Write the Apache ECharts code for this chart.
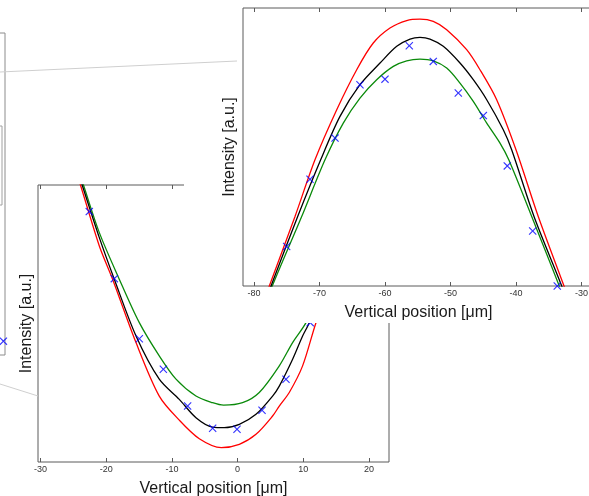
<!DOCTYPE html>
<html><head><meta charset="utf-8">
<script src="https://cdn.jsdelivr.net/npm/echarts@6/dist/echarts.min.js"></script>
<style>html,body{margin:0;padding:0;background:#fff}#c{width:589px;height:496px}</style>
</head><body><div id="c"></div>
<script>
// ---------- tick labels ----------
const blTicks = [-30, -20, -10, 0, 10, 20];
const trTicks = [-80, -70, -60, -50, -40, -30];
const xTitle = 'Vertical position [μm]';
const yTitle = 'Intensity [a.u.]';

// ---------- bottom-left inset (around 0 μm) ----------
const blGreenX = [-24.3, -23.5, -21.06, -18.02, -14.97, -11.93, -9.38, -6.34, -3.81, -2.13, 0.76, 3.30, 6.35, 8.38, 10.42, 13.5, 16.5, 18.9, 19.7];
const blGreenY = [106, 100.2, 82.8, 66.0, 50.3, 38.3, 29.9, 23.8, 21.4, 20.5, 21.4, 25.1, 34.7, 43.1, 50.3, 66, 82.8, 100, 106];
const blBlackX = [-24.5, -23.7, -21.06, -18.78, -15.47, -11.93, -8.88, -6.34, -3.81, -2.03, 0.26, 2.80, 5.33, 6.35, 8.38, 9.90, 10.92, 13.4, 15.7, 18.4, 19.2];
const blBlackY = [106, 100.2, 81.0, 66.0, 45.5, 29.9, 22.6, 16.0, 12.6, 12.4, 13.6, 17.2, 23.8, 27.4, 37.1, 45.5, 50.3, 66, 81, 100, 106];
const blRedX = [-24.8, -23.96, -21.06, -19.04, -15.47, -11.93, -8.88, -5.83, -2.48, 0.26, 2.80, 5.33, 6.35, 7.87, 9.90, 11.94, 14.4, 16.4, 19.3, 20.2];
const blRedY = [106, 100.2, 78.0, 66.0, 43.1, 23.8, 15.1, 8.4, 5.2, 6.4, 10.0, 16.6, 20.2, 25.1, 34.7, 50.3, 66, 78, 100, 106];
const blMeasX = [-22.59, -18.78, -14.97, -11.31, -7.61, -3.80, -0.09, 3.72, 7.37, 11.07];
const blMeasY = [90.4, 66.2, 44.5, 33.5, 20.2, 12.2, 11.8, 18.7, 29.9, 50.3];

// ---------- top-right inset (around -55 μm) ----------
const trRedX = [-78.4, -77.66, -73.74, -70.69, -67.37, -64.32, -61.79, -59.24, -56.69, -54.66, -52.63, -50.58, -47.53, -45.50, -42.95, -40.0, -36.60, -32.67, -31.9];
const trRedY = [-5, 0, 25.0, 45.4, 63.4, 77.8, 87.4, 92.8, 95.5, 96.0, 95.2, 92.2, 85.0, 77.8, 67.0, 49.0, 25.0, 0, -5];
const trBlackX = [-78.1, -77.40, -73.33, -69.82, -66.87, -63.82, -60.76, -58.21, -56.18, -54.66, -53.13, -51.10, -48.55, -46.52, -44.47, -41.94, -40.66, -37.25, -33.02, -32.3];
const trBlackY = [-5, 0, 25.0, 45.4, 61.0, 72.4, 80.2, 86.2, 88.8, 89.4, 88.8, 86.2, 80.2, 74.2, 67.0, 56.2, 49.0, 25.0, 0, -5];
const trGreenX = [-77.9, -77.21, -72.72, -69.16, -66.37, -63.82, -61.27, -58.73, -56.69, -54.66, -52.63, -50.58, -48.55, -46.52, -44.47, -42.44, -41.1, -37.6, -33.39, -32.7];
const trGreenY = [-5, 0, 25.0, 45.4, 58.6, 67.6, 74.2, 79.0, 81.0, 81.6, 81.0, 78.4, 73.0, 66.4, 58.6, 51.4, 45.4, 25.0, 0, -5];
const trMeasX = [-75.01, -71.45, -67.63, -63.82, -60.0, -56.29, -52.63, -48.81, -44.99, -41.33, -37.45, -33.70];
const trMeasY = [14.2, 38.4, 53.2, 72.4, 74.4, 86.4, 80.8, 69.4, 61.3, 43.2, 19.8, 0];

// ---------- main (background) plot, only a sliver visible ----------
const mainMeasX = [99.6];
const mainMeasY = [4.3];

const pairs = (xs, ys) => xs.map((x, i) => [x, ys[i]]);
const FONT = 'Liberation Sans, Arial, sans-serif';
const XMARK = 'path://M0,1L1,0L5,4L9,0L10,1L6,5L10,9L9,10L5,6L1,10L0,9L4,5Z';

function xAxes(grid, min, max, ticks, z) {
  const common = {
    type: 'value', gridIndex: grid, min: min, max: max, z: z,
    axisLine: { show: false }, splitLine: { show: false }
  };
  return [
    Object.assign({}, common, {
      position: 'bottom',
      axisTick: { show: true, inside: true, length: 4, customValues: ticks, lineStyle: { color: '#5a5a5a' } },
      axisLabel: { show: true, customValues: ticks, fontSize: 9, margin: 3, color: '#333', fontFamily: FONT },
      name: xTitle, nameLocation: 'middle', nameGap: 19,
      nameTextStyle: { fontSize: 16, color: '#1a1a1a', fontFamily: FONT }
    }),
    Object.assign({}, common, {
      position: 'top',
      axisTick: { show: true, inside: true, length: 4, customValues: ticks, lineStyle: { color: '#5a5a5a' } },
      axisLabel: { show: false }
    })
  ];
}
function yAxis(grid, gap, z) {
  return {
    type: 'value', gridIndex: grid, min: 0, max: 100, z: z,
    axisLine: { show: false }, axisTick: { show: false }, axisLabel: { show: false }, splitLine: { show: false },
    name: yTitle, nameLocation: 'middle', nameGap: gap,
    nameTextStyle: { fontSize: 16, color: '#1a1a1a', fontFamily: FONT }
  };
}
function line(xs, ys, color, xi, yi, z) {
  return { type: 'line', xAxisIndex: xi, yAxisIndex: yi, data: pairs(xs, ys), showSymbol: false,
    smooth: 0.3,
    lineStyle: { color: color, width: 1.3 }, z: z, silent: true, animation: false };
}
function marks(xs, ys, xi, yi, z) {
  return { type: 'scatter', xAxisIndex: xi, yAxisIndex: yi, data: pairs(xs, ys), symbol: XMARK, symbolSize: 8,
    itemStyle: { color: '#0000ff' }, z: z, animation: false, clip: false };
}

const chart = echarts.init(document.getElementById('c'), null, { renderer: 'canvas' });
chart.setOption({
  animation: false,
  backgroundColor: '#fff',
  grid: [
    { left: -395, top: 33, width: 400, height: 322, outerBoundsMode: 'none', containLabel: false, show: true, borderColor: '#8c8c8c', borderWidth: 1, backgroundColor: '#fff', z: 0 },
    { left: 38, top: 185, width: 351, height: 277, outerBoundsMode: 'none', containLabel: false, show: true, borderColor: '#5a5a5a', borderWidth: 1, backgroundColor: '#fff', z: 1 },
    { left: 243, top: 8, width: 351, height: 278, outerBoundsMode: 'none', containLabel: false, show: true, borderColor: '#5a5a5a', borderWidth: 1, backgroundColor: '#fff', z: 6 }
  ],
  xAxis: [
    { type: 'value', gridIndex: 0, min: 0, max: 100, show: false }
  ].concat(xAxes(1, -30.4, 23.06, blTicks, 1), xAxes(2, -81.68, -28.09, trTicks, 7)),
  yAxis: [
    { type: 'value', gridIndex: 0, min: 0, max: 100, show: false },
    yAxis(1, 3, 1),
    yAxis(2, 5, 7)
  ],
  graphic: [
    { type: 'rect', shape: { x: -10, y: 126, width: 12, height: 79 }, style: { fill: '#fff', stroke: '#a0a0a0', lineWidth: 1 }, z: 1 },
    { type: 'rect', shape: { x: 184, y: 0, width: 405, height: 323 }, style: { fill: '#fff' }, z: 5 },
    { type: 'line', shape: { x1: 0, y1: 72, x2: 237, y2: 61 }, style: { stroke: '#cfcfcf', lineWidth: 1 }, z: 20 },
    { type: 'line', shape: { x1: 0, y1: 384, x2: 38, y2: 396 }, style: { stroke: '#cfcfcf', lineWidth: 1 }, z: 20 }
  ],
  series: [
    marks(mainMeasX, mainMeasY, 0, 0, 1),
    line(blGreenX, blGreenY, '#0a8a0a', 1, 1, 2),
    line(blRedX, blRedY, '#ff0000', 1, 1, 2),
    line(blBlackX, blBlackY, '#000000', 1, 1, 2),
    Object.assign(marks(blMeasX, blMeasY, 1, 1, 3), { clip: true }),
    line(trGreenX, trGreenY, '#0a8a0a', 3, 2, 8),
    line(trRedX, trRedY, '#ff0000', 3, 2, 8),
    line(trBlackX, trBlackY, '#000000', 3, 2, 8),
    marks(trMeasX, trMeasY, 3, 2, 9)
  ]
});
</script></body></html>
